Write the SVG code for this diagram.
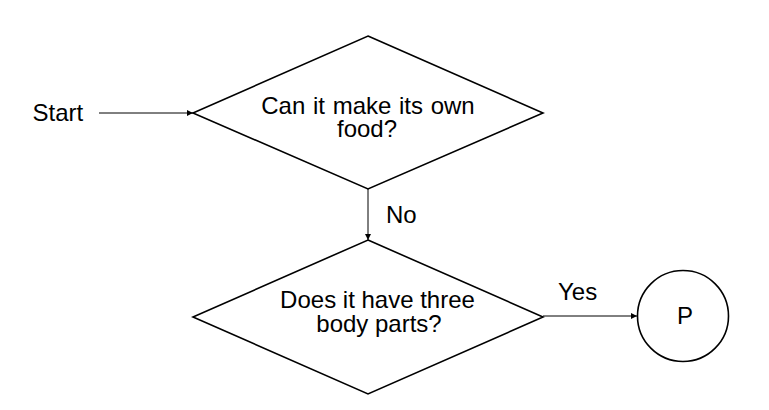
<svg xmlns="http://www.w3.org/2000/svg" width="769" height="410" viewBox="0 0 769 410">
<style>
.shape{fill:#fff;stroke:#000;stroke-width:1.6}
.conn{fill:none;stroke:#000;stroke-width:1}
text{font-family:"Liberation Sans",Arial,sans-serif;font-size:24px;fill:#000}
.c{text-anchor:middle}
</style>
<defs>
<marker id="arr" viewBox="0 0 10 10" refX="10" refY="5" markerWidth="8" markerHeight="6" markerUnits="userSpaceOnUse" orient="auto">
<path d="M0,0 L10,5 L0,10 z" fill="#000"/>
</marker>
</defs>
<g id="start">
<text x="32.5" y="121">Start</text>
</g>
<g id="q1">
<polygon class="shape" points="368,36 543,113 368,189 193,113"/>
<text class="c" x="368" y="113.5" word-spacing="1">Can it make its own</text>
<text class="c" x="367" y="137">food?</text>
</g>
<g id="q2">
<polygon class="shape" points="368,240 543,317 368,394 193,317"/>
<text class="c" x="377.5" y="308">Does it have three</text>
<text class="c" x="379" y="331.5">body parts?</text>
</g>
<g id="p">
<circle class="shape" cx="683" cy="316" r="45.5"/>
<text class="c" x="685" y="324">P</text>
</g>
<g id="connectors">
<line class="conn" x1="99" y1="113" x2="193" y2="113" marker-end="url(#arr)"/>
<line class="conn" x1="368" y1="189" x2="368" y2="240" marker-end="url(#arr)"/>
<text x="386" y="223">No</text>
<line class="conn" x1="543" y1="316" x2="637" y2="316" marker-end="url(#arr)"/>
<text x="558" y="300">Yes</text>
</g>
</svg>
